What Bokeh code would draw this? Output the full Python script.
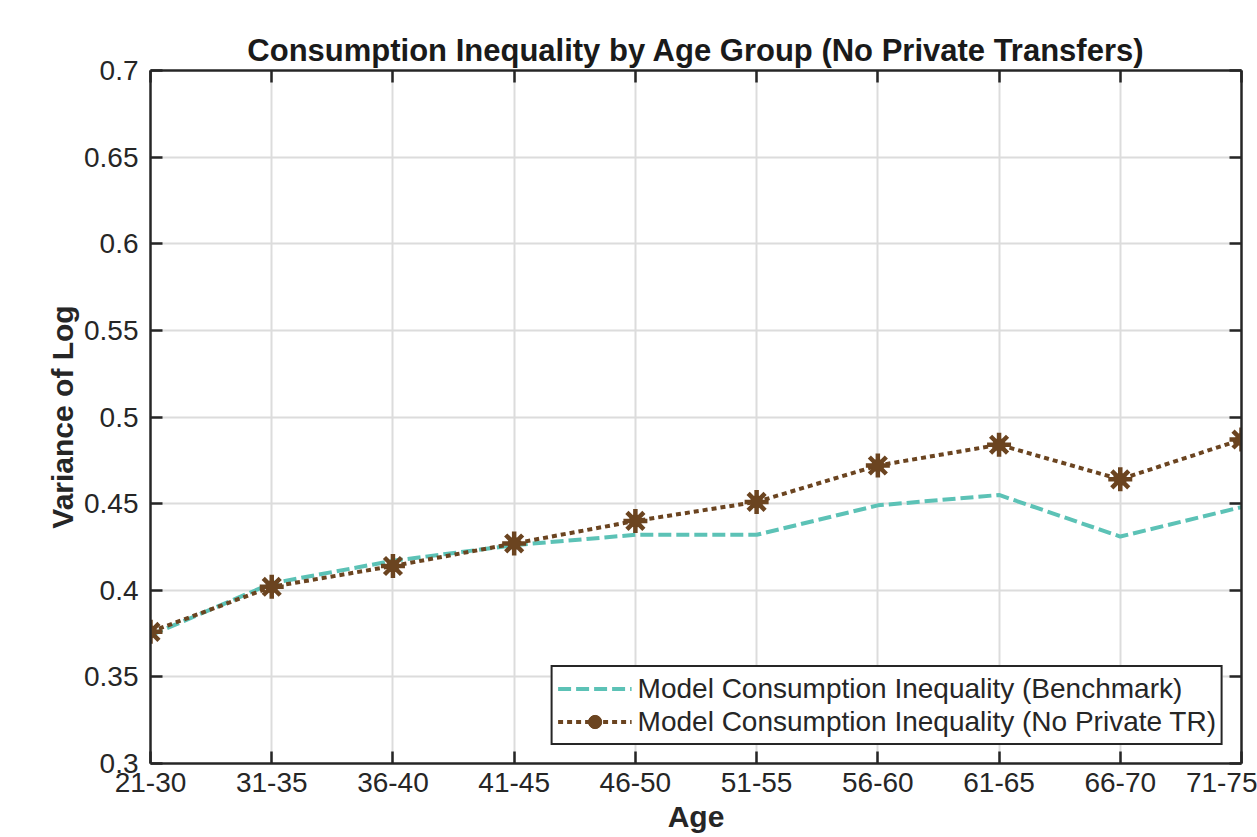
from bokeh.plotting import figure
from bokeh.models import (FixedTicker, LinearAxis, Range1d, Legend, LegendItem,
                          CustomJSTickFormatter)
from bokeh.embed import file_html
from bokeh.resources import INLINE

# ---------------- data ----------------
age_groups = ["21-30", "31-35", "36-40", "41-45", "46-50",
              "51-55", "56-60", "61-65", "66-70", "71-75"]
benchmark = [0.374, 0.404, 0.417, 0.426, 0.432, 0.432, 0.449, 0.455, 0.431, 0.448]
no_private_tr = [0.376, 0.402, 0.414, 0.427, 0.440, 0.451, 0.472, 0.484, 0.464, 0.487]
y_ticks = [0.3, 0.35, 0.4, 0.45, 0.5, 0.55, 0.6, 0.65, 0.7]
y_tick_labels = ["0.3", "0.35", "0.4", "0.45", "0.5", "0.55", "0.6", "0.65", "0.7"]

x_pos = list(range(1, len(age_groups) + 1))

FONT = "Liberation Sans"
AX = "#262626"
CYAN = "#5cc2b6"
BROWN = "#6b4420"

p = figure(width=1257, height=837, output_backend="svg", toolbar_location=None,
           x_range=Range1d(1, 10), y_range=Range1d(0.3, 0.7),
           min_border_left=150, min_border_right=16,
           min_border_top=70, min_border_bottom=74)
p.outline_line_color = None
p.background_fill_color = "white"
p.border_fill_color = "white"

# title
p.title.text = "Consumption Inequality by Age Group (No Private Transfers)"
p.title.text_font = FONT
p.title.text_font_size = "31px"
p.title.text_font_style = "bold"
p.title.text_color = "#1a1a1a"
p.title.align = "center"
p.title.standoff = 5

# axes
def style_axis(ax):
    ax.axis_line_color = AX
    ax.axis_line_width = 2.5
    ax.major_tick_line_color = AX
    ax.major_tick_line_width = 2.5
    ax.major_tick_in = 12
    ax.major_tick_out = 0
    ax.minor_tick_line_color = None
    ax.major_label_text_font = FONT
    ax.major_label_text_font_size = "28px"
    ax.major_label_text_color = AX

xa = p.xaxis[0]
xa.ticker = FixedTicker(ticks=x_pos)
xa.major_label_overrides = {x: lab for x, lab in zip(x_pos, age_groups)}
style_axis(xa)
xa.major_label_standoff = 9
xa.axis_label = "Age"
xa.axis_label_text_font = FONT
xa.axis_label_text_font_size = "30px"
xa.axis_label_text_font_style = "bold"
xa.axis_label_text_color = AX
xa.axis_label_standoff = 5

ya = p.yaxis[0]
ya.ticker = FixedTicker(ticks=y_ticks)
ya.major_label_overrides = {v: lab for v, lab in zip(y_ticks, y_tick_labels)}
style_axis(ya)
ya.major_label_standoff = 12
ya.axis_label = "Variance of Log"
ya.axis_label_text_font = FONT
ya.axis_label_text_font_size = "30px"
ya.axis_label_text_font_style = "bold"
ya.axis_label_text_color = AX
ya.axis_label_standoff = 2

blank = CustomJSTickFormatter(code="return ''")
top = LinearAxis(ticker=FixedTicker(ticks=x_pos), formatter=blank, major_label_standoff=0)
style_axis(top)
p.add_layout(top, "above")
right = LinearAxis(ticker=FixedTicker(ticks=y_ticks), formatter=blank, major_label_standoff=0)
style_axis(right)
p.add_layout(right, "right")

# grid
for g in (p.xgrid[0], p.ygrid[0]):
    g.grid_line_color = "#dcdcdc"
    g.grid_line_width = 2
p.xgrid[0].ticker = FixedTicker(ticks=x_pos)
p.ygrid[0].ticker = FixedTicker(ticks=y_ticks)

# series
r_b = p.line(x_pos, benchmark, line_color=CYAN, line_width=4, line_dash="13 5")
r_n = p.line(x_pos, no_private_tr, line_color=BROWN, line_width=4, line_dash="5 4")
r_c = p.scatter(x_pos, no_private_tr, marker="circle", size=12,
                fill_color=BROWN, line_color=BROWN)
r_m = p.scatter(x_pos, no_private_tr, marker="asterisk", size=24,
                line_color=BROWN, line_width=4.5)

legend = Legend(items=[
    LegendItem(label="Model Consumption Inequality (Benchmark)", renderers=[r_b]),
    LegendItem(label="Model Consumption Inequality (No Private TR)", renderers=[r_n, r_c, r_m]),
], location="bottom_right")
legend.margin = 18
legend.padding = 5
legend.spacing = 0
legend.glyph_width = 74
legend.glyph_height = 33
legend.label_height = 33
legend.label_standoff = 6
legend.label_text_font = FONT
legend.label_text_font_size = "28px"
legend.label_text_color = AX
legend.border_line_color = AX
legend.border_line_alpha = 1
legend.border_line_width = 2.5
legend.background_fill_color = "white"
legend.background_fill_alpha = 1
p.add_layout(legend, "center")

open("out.html", "w").write(file_html(p, INLINE))
